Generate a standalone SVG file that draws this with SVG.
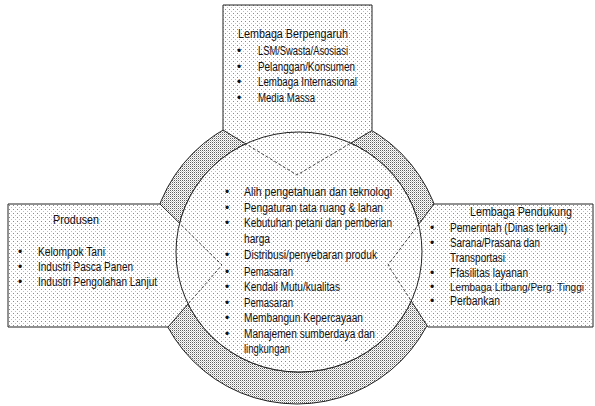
<svg xmlns="http://www.w3.org/2000/svg" width="595" height="406" viewBox="0 0 595 406">
<defs>
<pattern id="dots" width="4" height="4" patternUnits="userSpaceOnUse">
<rect width="4" height="4" fill="#ffffff"/>
<rect x="1" y="1" width="1" height="1" fill="#8a8a8a"/>
<rect x="3" y="3" width="1" height="1" fill="#c0c0c0"/>
</pattern>
<pattern id="dense" width="2" height="2" patternUnits="userSpaceOnUse">
<rect width="2" height="2" fill="#ffffff"/>
<rect x="0" y="0" width="1" height="1" fill="#5e5e5e"/>
<rect x="1" y="1" width="1" height="1" fill="#c4c4c4"/>
</pattern>
<clipPath id="innerClip"><ellipse cx="299" cy="252" rx="123" ry="120"/></clipPath>
<style>
.t{font-family:"Liberation Sans Narrow","Liberation Sans",Arial,sans-serif;font-size:12px;fill:#111}
.box{fill:url(#dots);stroke:#222;stroke-width:1}
.dash{fill:none;stroke:#333;stroke-width:0.9;stroke-dasharray:3 2}
</style>
</defs>
<rect width="595" height="406" fill="#ffffff"/>
<g id="ring">
<path d="M150,257 A147,147 0 1 0 444,257 A147,147 0 1 0 150,257 Z M176,252 A123,120 0 1 1 422,252 A123,120 0 1 1 176,252 Z" fill="url(#dense)" fill-rule="evenodd" stroke="#222" stroke-width="1"/>
</g>
<g id="node-top">
<polygon class="box" points="223,5 372,5 372,130.5 297,175 223,130"/>
<text class="t" x="238" y="38" textLength="110" lengthAdjust="spacingAndGlyphs">Lembaga Berpengaruh</text>
<text class="t" x="237" y="55">•</text>
<text class="t" x="258" y="55" textLength="90" lengthAdjust="spacingAndGlyphs">LSM/Swasta/Asosiasi</text>
<text class="t" x="237" y="70.5">•</text>
<text class="t" x="258" y="70.5" textLength="97" lengthAdjust="spacingAndGlyphs">Pelanggan/Konsumen</text>
<text class="t" x="237" y="86">•</text>
<text class="t" x="258" y="86" textLength="99" lengthAdjust="spacingAndGlyphs">Lembaga Internasional</text>
<text class="t" x="237" y="101.5">•</text>
<text class="t" x="258" y="101.5" textLength="57" lengthAdjust="spacingAndGlyphs">Media Massa</text>
</g>
<g id="node-left">
<polygon class="box" points="8,204 160,204 222,265 168,327 8,327"/>
<text class="t" x="53" y="224" textLength="46" lengthAdjust="spacingAndGlyphs">Produsen</text>
<text class="t" x="18" y="256">•</text>
<text class="t" x="38" y="256" textLength="67" lengthAdjust="spacingAndGlyphs">Kelompok Tani</text>
<text class="t" x="18" y="271">•</text>
<text class="t" x="38" y="271" textLength="95" lengthAdjust="spacingAndGlyphs">Industri Pasca Panen</text>
<text class="t" x="18" y="286">•</text>
<text class="t" x="38" y="286" textLength="119" lengthAdjust="spacingAndGlyphs">Industri Pengolahan Lanjut</text>
</g>
<g id="node-right">
<polygon class="box" points="434,204 593,204 593,327 428,327 388,265"/>
<text class="t" x="470" y="216" textLength="102" lengthAdjust="spacingAndGlyphs">Lembaga Pendukung</text>
<text class="t" x="430" y="231.5">•</text>
<text class="t" x="450" y="231.5" textLength="117" lengthAdjust="spacingAndGlyphs">Pemerintah (Dinas terkait)</text>
<text class="t" x="430" y="246.5">•</text>
<text class="t" x="450" y="246.5" textLength="90" lengthAdjust="spacingAndGlyphs">Sarana/Prasana dan</text>
<text class="t" x="450" y="261.5" textLength="55" lengthAdjust="spacingAndGlyphs">Transportasi</text>
<text class="t" x="430" y="276.5">•</text>
<text class="t" x="450" y="276.5" textLength="78" lengthAdjust="spacingAndGlyphs">Ffasilitas layanan</text>
<text class="t" x="430" y="291">•</text>
<text class="t" x="450" y="291" textLength="134" lengthAdjust="spacingAndGlyphs" style="font-size:10.5px">Lembaga Litbang/Perg. Tinggi</text>
<text class="t" x="430" y="305">•</text>
<text class="t" x="450" y="305" textLength="50" lengthAdjust="spacingAndGlyphs">Perbankan</text>
</g>
<g id="node-center">
<ellipse cx="299" cy="252" rx="123" ry="120" fill="url(#dots)" stroke="#222" stroke-width="1"/>
</g>
<g id="connectors" clip-path="url(#innerClip)">
<polyline class="dash" points="223,130 297,175 372,130.5"/>
<polyline class="dash" points="160,204 222,265 168,327"/>
<polyline class="dash" points="434,204 388,265 428,327"/>
</g>
<g id="center-text">
<text class="t" x="225" y="196">•</text>
<text class="t" x="244" y="196" textLength="148" lengthAdjust="spacingAndGlyphs">Alih pengetahuan dan teknologi</text>
<text class="t" x="225" y="211.5">•</text>
<text class="t" x="244" y="211.5" textLength="139" lengthAdjust="spacingAndGlyphs">Pengaturan tata ruang &amp; lahan</text>
<text class="t" x="225" y="227">•</text>
<text class="t" x="244" y="227" textLength="148" lengthAdjust="spacingAndGlyphs">Kebutuhan petani dan pemberian</text>
<text class="t" x="244" y="242.5" textLength="26" lengthAdjust="spacingAndGlyphs">harga</text>
<text class="t" x="225" y="259">•</text>
<text class="t" x="244" y="259" textLength="133" lengthAdjust="spacingAndGlyphs">Distribusi/penyebaran produk</text>
<text class="t" x="225" y="276">•</text>
<text class="t" x="244" y="276" textLength="49" lengthAdjust="spacingAndGlyphs">Pemasaran</text>
<text class="t" x="225" y="291">•</text>
<text class="t" x="244" y="291" textLength="96" lengthAdjust="spacingAndGlyphs">Kendali Mutu/kualitas</text>
<text class="t" x="225" y="306.5">•</text>
<text class="t" x="244" y="306.5" textLength="49" lengthAdjust="spacingAndGlyphs">Pemasaran</text>
<text class="t" x="225" y="322">•</text>
<text class="t" x="244" y="322" textLength="119" lengthAdjust="spacingAndGlyphs">Membangun Kepercayaan</text>
<text class="t" x="225" y="338">•</text>
<text class="t" x="244" y="338" textLength="131" lengthAdjust="spacingAndGlyphs">Manajemen sumberdaya dan</text>
<text class="t" x="244" y="353" textLength="46" lengthAdjust="spacingAndGlyphs">lingkungan</text>
</g>
</svg>
